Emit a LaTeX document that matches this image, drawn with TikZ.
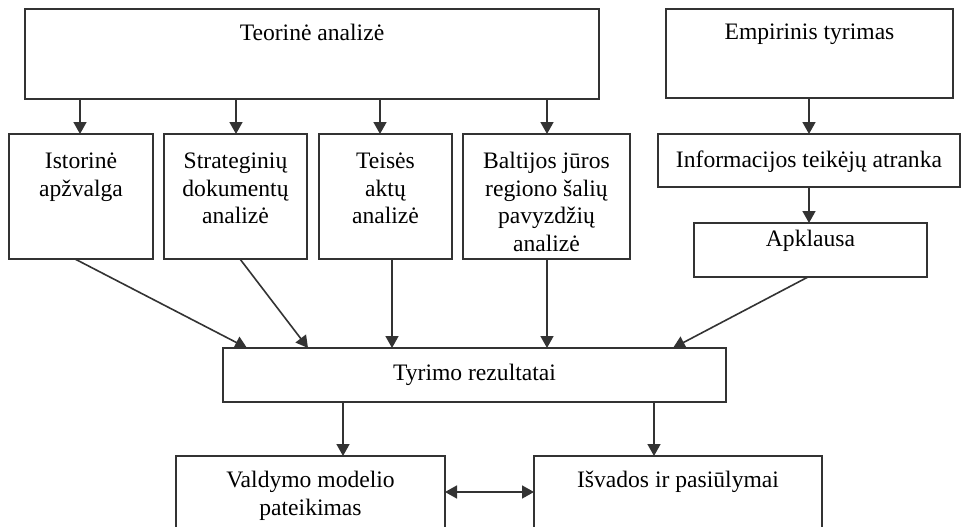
\documentclass[tikz,border=0pt]{standalone}
\usepackage{fontspec}
\setmainfont{Liberation Serif}
\usetikzlibrary{arrows.meta,calc}
\definecolor{lc}{gray}{0.2}
\begin{document}
\begin{tikzpicture}[x=1pt,y=-1pt,
  box/.style={draw=lc, line width=1.7pt, rectangle, inner sep=0pt, outer sep=0pt, anchor=north west},
  lbl/.style={anchor=north, inner sep=0pt, align=center, font=\fontsize{23.6}{27.5}\selectfont, text=black},
  arr/.style={draw=lc, line width=1.6pt, -{Triangle[length=12pt,width=13pt]}},
  darr/.style={draw=lc, line width=1.6pt, {Triangle[length=12pt,width=13pt]}-{Triangle[length=12pt,width=13pt]}},
]
\clip (0,0) rectangle (962,527);
\fill[white] (0,0) rectangle (962,527);

% boxes
\node[box, minimum width=574pt, minimum height=90pt]  (teor) at (25,9) {};
\node[box, minimum width=287pt, minimum height=89pt]  (emp)  at (666,9) {};
\node[box, minimum width=144pt, minimum height=125pt] (ist)  at (9,134) {};
\node[box, minimum width=143pt, minimum height=125pt] (str)  at (164,134) {};
\node[box, minimum width=133pt, minimum height=125pt] (teis) at (319,134) {};
\node[box, minimum width=167pt, minimum height=125pt] (balt) at (463,134) {};
\node[box, minimum width=302pt, minimum height=53pt]  (info) at (658,134) {};
\node[box, minimum width=233pt, minimum height=54pt]  (apk)  at (694,223) {};
\node[box, minimum width=503pt, minimum height=54pt]  (tyr)  at (223,348) {};
\node[box, minimum width=269pt, minimum height=90pt]  (vald) at (176,456) {};
\node[box, minimum width=288pt, minimum height=90pt]  (isv)  at (534,456) {};

% labels
\node[lbl] (tTeor) at ([yshift=-12pt]teor.north) {\strut Teorinė analizė};
\node[lbl] (tEmp)  at ([yshift=-11pt]emp.north)  {\strut Empirinis tyrimas};
\node[lbl] (tIst)  at ([yshift=-15.5pt]ist.north)  {\strut Istorinė\\apžvalga};
\node[lbl] (tStr)  at ([yshift=-15.5pt]str.north)  {\strut Strateginių\\dokumentų\\analizė};
\node[lbl] (tTeis) at ([yshift=-15.5pt]teis.north) {\strut Teisės\\aktų\\analizė};
\node[lbl] (tBalt) at ([yshift=-15.5pt]balt.north) {\strut Baltijos jūros\\regiono šalių\\pavyzdžių\\analizė};
\node[lbl] (tInfo) at ([yshift=-14pt]info.north)  {\strut Informacijos teikėjų atranka};
\node[lbl] (tApk)  at ([yshift=-4.5pt]apk.north)  {\strut Apklausa};
\node[lbl] (tTyr)  at ([yshift=-13.5pt]tyr.north) {\strut Tyrimo rezultatai};
\node[lbl] (tVald) at ([yshift=-12.5pt]vald.north) {\strut Valdymo modelio\\pateikimas};
\node[lbl] (tIsv)  at ([yshift=-12.5pt]isv.north)  {\strut Išvados ir pasiūlymai};

% connectors from the top row
\draw[arr] ([xshift=-1pt]ist.north |- teor.south) -- ([xshift=-1pt]ist.north);
\draw[arr] ([xshift=0.5pt]str.north |- teor.south) -- ([xshift=0.5pt]str.north);
\draw[arr] ([xshift=-5.5pt]teis.north |- teor.south) -- ([xshift=-5.5pt]teis.north);
\draw[arr] ([xshift=0.5pt]balt.north |- teor.south) -- ([xshift=0.5pt]balt.north);
\draw[arr] ([xshift=-0.5pt]emp.south) -- ([xshift=-0.5pt]emp.south |- info.north);
\draw[arr] (info.south) -- (info.south |- apk.north);

% connectors into the results box
\draw[arr] ([xshift=-6pt]ist.south) -- ([xshift=24pt]tyr.north west);
\draw[arr] ([xshift=4.5pt]str.south) -- ([xshift=85pt]tyr.north west);
\draw[arr] ([xshift=6.5pt]teis.south) -- ([xshift=6.5pt]teis.south |- tyr.north);
\draw[arr] ([xshift=0.5pt]balt.south) -- ([xshift=0.5pt]balt.south |- tyr.north);
\draw[arr] ([xshift=-2.5pt]apk.south) -- ([xshift=-53pt]tyr.north east);

% connectors to the bottom row
\draw[arr] ([xshift=120pt]tyr.south west) -- ([xshift=120pt]tyr.south west |- vald.north);
\draw[arr] ([xshift=-72pt]tyr.south east) -- ([xshift=-72pt]tyr.south east |- isv.north);
\draw[darr] ([yshift=-36pt]vald.north east) -- ([yshift=-36pt]vald.north east -| isv.west);
\end{tikzpicture}
\end{document}
